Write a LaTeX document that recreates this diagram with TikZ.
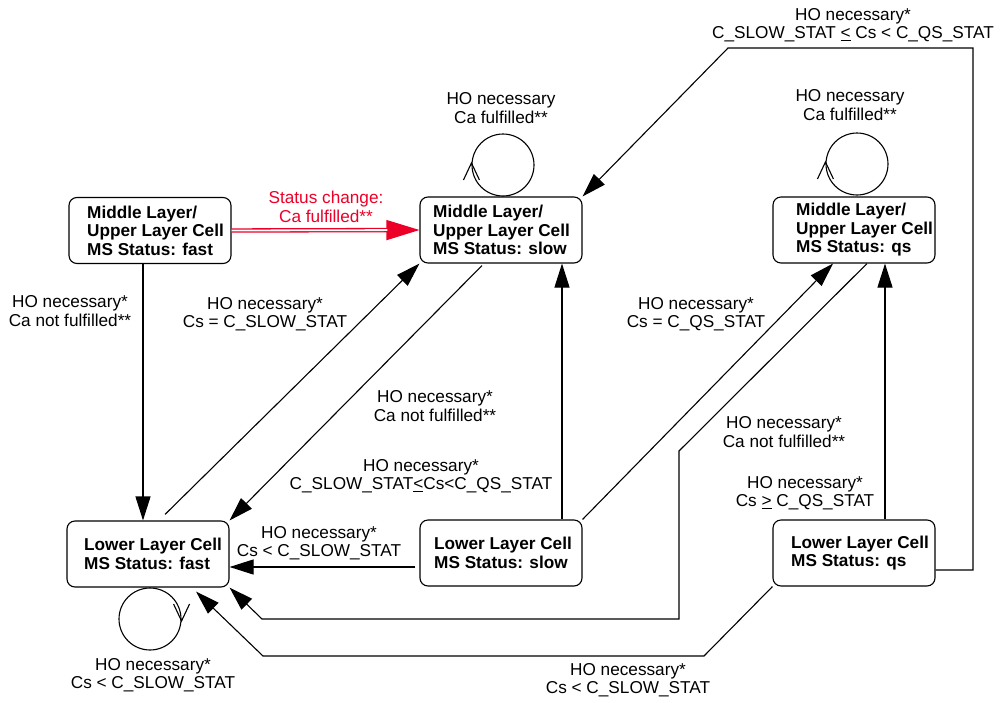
\documentclass[tikz,border=0pt]{standalone}
\usepackage{fontspec}
\setmainfont{Liberation Sans}
\usetikzlibrary{arrows.meta}
\definecolor{redc}{RGB}{236,0,40}
\begin{document}
\begin{tikzpicture}[x=1pt,y=-1pt,
  statebox/.style={draw, rounded corners=8pt, line width=1.1pt, minimum width=162pt, minimum height=66pt, inner sep=0pt},
  stxt/.style={font=\bfseries\fontsize{17.2}{18.5}\selectfont, align=left, inner sep=0pt, anchor=west},
  lbl/.style={font=\fontsize{17.2}{18.5}\selectfont, align=center, inner sep=0pt},
  edge/.style={line width=1.1pt, -{Triangle[length=24pt,width=15pt]}},
  plain/.style={line width=1.1pt},
  loopc/.style={draw, circle, minimum size=62pt, inner sep=0pt, line width=1.1pt}
]
\useasboundingbox (0,0) rectangle (1002,702);

% state boxes
\node[statebox] (MF) at (150,230.5) {};
\node[statebox] (MS) at (501,230) {};
\node[statebox] (MQ) at (854,230) {};
\node[statebox] (LF) at (148,554) {};
\node[statebox] (LS) at (501,553) {};
\node[statebox] (LQ) at (854,553) {};

\node[stxt] (tMF) at (87,230.5) {Middle Layer/\\Upper Layer Cell\\MS Status: fast};
\node[stxt] (tMS) at (433,230) {Middle Layer/\\Upper Layer Cell\\MS Status: slow};
\node[stxt] (tMQ) at (796,230) {Middle Layer/\\Upper Layer Cell\\MS Status: qs};
\node[stxt] (tLF) at (84,554) {Lower Layer Cell\\MS Status: fast};
\node[stxt] (tLS) at (434,553) {Lower Layer Cell\\MS Status: slow};
\node[stxt] (tLQ) at (791,553) {Lower Layer Cell\\MS Status: qs};

% self loops
\node[loopc] (lpMS) at (503,165) {};
\node[loopc] (lpMQ) at (857,164) {};
\node[loopc] (lpLF) at (150,619) {};
\draw[plain] ([xshift=-8pt,yshift=-15pt]lpMS.west) -- ([yshift=2pt]lpMS.west) -- ([xshift=8pt,yshift=-15pt]lpMS.west);
\draw[plain] ([xshift=-8pt,yshift=-15pt]lpMQ.west) -- ([yshift=2pt]lpMQ.west) -- ([xshift=8pt,yshift=-15pt]lpMQ.west);
\draw[plain] ([xshift=-8pt,yshift=15pt]lpLF.east) -- ([yshift=-2pt]lpLF.east) -- ([xshift=8pt,yshift=15pt]lpLF.east);

\node[lbl] (lMS) at (501,108) {HO necessary\\Ca fulfilled**};
\node[lbl] (lMQ) at (850,105) {HO necessary\\Ca fulfilled**};
\node[lbl] (lLF) at (153,675) {HO necessary*\\Cs < C\_SLOW\_STAT};

% red status change
\draw[redc, line width=1.2pt, -{Triangle[length=33pt,width=20pt]}] (MF.east) -- (MS.west);
\draw[redc, line width=1.3pt, double=white, double distance=1.8pt, shorten >=32pt] (MF.east) -- (MS.west);
\node[lbl, text=redc] (lred) at (326,207) {Status change:\\Ca fulfilled**};

% MF -> LF
\draw[edge] ([xshift=-7pt]MF.south) -- ([xshift=-5pt]LF.north);
\node[lbl] (l1) at (70,311) {HO necessary*\\Ca not fulfilled**};

% LF -> MS
\draw[edge] ([xshift=17pt,yshift=6pt]LF.north) -- (MS.south west);
\node[lbl] (l2) at (265,314) {HO necessary*\\Cs = C\_SLOW\_STAT};

% MS -> LF
\draw[edge] ([xshift=-19pt,yshift=-2pt]MS.south) -- (LF.north east);
\node[lbl] (l3) at (435,406) {HO necessary*\\Ca not fulfilled**};

% LS -> LF
\draw[edge] ([xshift=-4pt,yshift=-14pt]LS.west) -- ([yshift=-13pt]LF.east);
\node[lbl] (l4) at (319,543) {HO necessary*\\Cs < C\_SLOW\_STAT};

% LS -> MS
\draw[edge] ([xshift=61pt]LS.north) -- ([xshift=61pt]MS.south);
\node[lbl] (l5) at (421,476) {HO necessary*\\C\_SLOW\_STAT\underline{<}Cs<C\_QS\_STAT};

% LS -> MQ
\draw[edge] (LS.north east) -- ([xshift=-21pt]MQ.south);
\node[lbl] (l6) at (696,314) {HO necessary*\\Cs = C\_QS\_STAT};

% MQ -> LF (via middle)
\coordinate (a1) at (679,451);
\coordinate (a2) at (679,619);
\coordinate (a3) at (262,619);
\draw[edge] ([xshift=13pt]MQ.south) -- (a1) -- (a2) -- (a3) -- (LF.south east);
\node[lbl] (l7) at (784,432) {HO necessary*\\Ca not fulfilled**};

% LQ -> MQ
\draw[edge] ([xshift=31pt]LQ.north) -- ([xshift=31pt]MQ.south);
\node[lbl] (l8) at (805,493) {HO necessary*\\Cs \underline{>} C\_QS\_STAT};

% LQ -> LF (bottom)
\coordinate (b1) at (704,656);
\coordinate (b2) at (263,656);
\draw[edge] (LQ.south west) -- (b1) -- (b2) -- ([xshift=48pt,yshift=-4pt]LF.south);
\node[lbl] (l9) at (628,680) {HO necessary*\\Cs < C\_SLOW\_STAT};

% LQ -> MS (top)
\coordinate (c1) at (973,570);
\coordinate (c2) at (973,48);
\coordinate (c3) at (728,48);
\draw[edge] ([yshift=-17pt]LQ.east) -- (c1) -- (c2) -- (c3) -- (MS.north east);
\node[lbl] (l10) at (853,25) {HO necessary*\\C\_SLOW\_STAT \underline{<} Cs < C\_QS\_STAT};

\end{tikzpicture}
\end{document}
